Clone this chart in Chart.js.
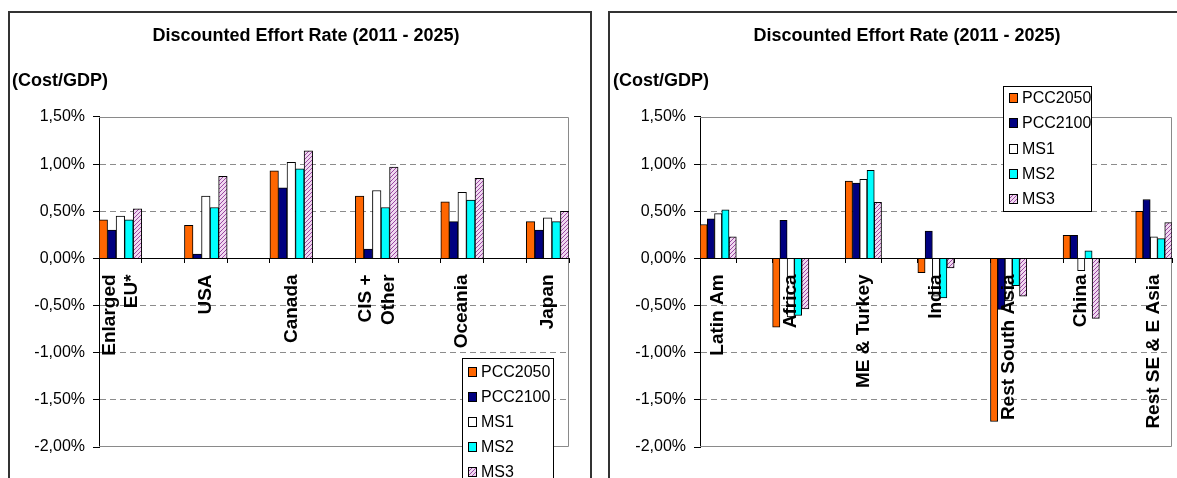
<!DOCTYPE html>
<html>
<head>
<meta charset="utf-8">
<script src="https://cdn.jsdelivr.net/npm/chart.js@4/dist/chart.umd.min.js"></script>
<style>
  html, body { margin: 0; padding: 0; background: #fff; overflow: hidden; width: 1177px; height: 478px; }
  .frame { position: absolute; border: 2px solid #333; box-sizing: border-box; }
  #frameL { left: 8px; top: 11px; width: 584px; height: 600px; }
  #frameR { left: 608px; top: 11px; width: 700px; height: 600px; }
  canvas { position: absolute; top: 0; }
  #chartL { left: 0; }
  #chartR { left: 600px; }
</style>
</head>
<body>
<div class="frame" id="frameL"></div>
<div class="frame" id="frameR"></div>
<canvas id="chartL" width="600" height="478"></canvas>
<canvas id="chartR" width="601" height="478"></canvas>
<script>
// series names (legend)
const seriesNames = ['PCC2050', 'PCC2100', 'MS1', 'MS2', 'MS3'];

// left panel: industrialised regions, values in % of GDP
const regionsA = [['Enlarged', 'EU*'], 'USA', 'Canada', ['CIS +', 'Other'], 'Oceania', 'Japan'];
const pcc2050A = [0.41, 0.35, 0.93, 0.66, 0.60, 0.39];
const pcc2100A = [0.30, 0.045, 0.75, 0.10, 0.39, 0.30];
const ms1A     = [0.45, 0.66, 1.02, 0.72, 0.70, 0.43];
const ms2A     = [0.41, 0.54, 0.95, 0.54, 0.62, 0.39];
const ms3A     = [0.525, 0.87, 1.14, 0.97, 0.85, 0.50];

// right panel: developing regions
const regionsB = ['Latin Am', 'Africa', 'ME & Turkey', 'India', 'Rest South Asia', 'China', 'Rest SE & E Asia'];
const pcc2050B = [0.36, -0.73, 0.82, -0.15, -1.73, 0.245, 0.50];
const pcc2100B = [0.42, 0.405, 0.80, 0.29, -0.54, 0.245, 0.625];
const ms1B     = [0.475, -0.62, 0.84, -0.40, -0.45, -0.13, 0.23];
const ms2B     = [0.515, -0.605, 0.935, -0.42, -0.29, 0.08, 0.21];
const ms3B     = [0.23, -0.535, 0.595, -0.10, -0.40, -0.635, 0.38];

// y axis range (%)
const yMin = -2, yMax = 1.5, yStep = 0.5;

const FONT = '"Liberation Sans", Arial, sans-serif';

// the original sheet leaves an empty category between two regions
function withGaps(arr, blank) {
  const out = [];
  arr.forEach((v, i) => { if (i) out.push(blank); out.push(v); });
  return out;
}

function hatch() {
  const c = document.createElement('canvas');
  c.width = 4; c.height = 4;
  const g = c.getContext('2d');
  g.fillStyle = '#f0d8f0';
  g.fillRect(0, 0, 4, 4);
  g.fillStyle = '#9c4aa4';
  for (let i = 0; i < 4; i++) g.fillRect(3 - i, i, 1, 1);
  return g.createPattern(c, 'repeat');
}

const colors = ['#ff6600', '#000080', '#ffffff', '#00ffff', hatch()];

// grey box around the plot area (top, right, bottom)
const plotFrame = {
  id: 'plotFrame',
  beforeDatasetsDraw(chart) {
    const { left, top, right, bottom } = chart.chartArea;
    const ctx = chart.ctx;
    ctx.save();
    ctx.strokeStyle = '#8a8a8a';
    ctx.lineWidth = 1;
    ctx.beginPath();
    ctx.moveTo(left, Math.round(top) + 0.5);
    ctx.lineTo(Math.round(right) - 0.5, Math.round(top) + 0.5);
    ctx.lineTo(Math.round(right) - 0.5, Math.round(bottom) - 0.5);
    ctx.lineTo(left, Math.round(bottom) - 0.5);
    ctx.stroke();
    ctx.restore();
  }
};

// two-line region names: centre the pair of lines on the group
const centerTwoLine = {
  id: 'centerTwoLine',
  beforeDraw(chart) {
    const items = chart.scales.x.getLabelItems();
    if (items._shifted) return;
    items.forEach(it => {
      if (Array.isArray(it.label)) it.options.translation[0] -= 11;
    });
    items._shifted = true;
  }
};

// boxed legend placed inside the plot like the spreadsheet one
const boxLegend = {
  id: 'boxLegend',
  afterDraw(chart, args, o) {
    const ctx = chart.ctx;
    ctx.save();
    ctx.fillStyle = '#fff';
    ctx.fillRect(o.x, o.y, o.w, o.h);
    ctx.strokeStyle = '#000';
    ctx.lineWidth = 1;
    ctx.strokeRect(o.x + 0.5, o.y + 0.5, o.w, o.h);
    ctx.font = '16px ' + FONT;
    ctx.textBaseline = 'middle';
    chart.data.datasets.forEach((ds, i) => {
      const cy = Math.round(o.y + o.first + i * o.step);
      ctx.fillStyle = ds.backgroundColor;
      ctx.fillRect(o.x + 6, cy - 4, 8, 9);
      ctx.strokeStyle = '#000';
      ctx.strokeRect(o.x + 6.5, cy - 4.5, 8, 9);
      ctx.fillStyle = '#000';
      ctx.fillText(ds.label, o.x + 19, cy + 1);
    });
    ctx.restore();
  }
};

function makeChart(id, regions, series, padLeft, rightGap, legendBox) {
  const labels = withGaps(regions, '');
  return new Chart(document.getElementById(id), {
    type: 'bar',
    data: {
      labels: labels,
      datasets: series.map((vals, i) => ({
        label: seriesNames[i],
        data: withGaps(vals, null),
        backgroundColor: colors[i],
        borderColor: '#000',
        borderWidth: 1,
        categoryPercentage: 1,
        barPercentage: 1
      }))
    },
    options: {
      responsive: false,
      animation: false,
      events: [],
      devicePixelRatio: 1,
      layout: { padding: { left: padLeft, right: 0, top: 0, bottom: 31 } },
      plugins: {
        legend: { display: false },
        tooltip: { enabled: false },
        title: {
          display: true,
          text: 'Discounted Effort Rate (2011 - 2025)',
          color: '#000',
          font: { family: FONT, size: 18, weight: 'bold' },
          padding: { top: 25, bottom: 0 }
        },
        subtitle: {
          display: true,
          text: '(Cost/GDP)',
          align: 'start',
          color: '#000',
          font: { family: FONT, size: 18, weight: 'bold' },
          padding: { top: 23.6, bottom: 25.2 }
        },
        boxLegend: legendBox
      },
      scales: {
        x: {
          position: { y: 0 },
          offset: true,
          grid: { drawOnChartArea: false, color: '#000', tickLength: 4, offset: true },
          border: { color: '#000', z: 1 },
          ticks: {
            autoSkip: false,
            minRotation: 90,
            maxRotation: 90,
            padding: 12,
            color: '#000',
            z: 1,
            font: { family: FONT, size: 19, weight: 'bold' }
          }
        },
        y: {
          min: yMin,
          max: yMax,
          afterFit: s => { s.width = 87; },
          ticks: {
            stepSize: yStep,
            padding: 8,
            color: '#000',
            font: { family: FONT, size: 16 },
            callback: v => v.toFixed(2).replace('.', ',') + '%'
          },
          grid: {
            color: c => {
              const v = c.tick ? c.tick.value : 0;
              return (Math.abs(v) < 1e-9 || v >= yMax || v <= yMin) ? 'rgba(0,0,0,0)' : '#8c8c8c';
            },
            tickColor: '#000',
            tickLength: 6
          },
          border: { color: '#000', dash: [6, 4] }
        },
        yPad: {
          type: 'linear',
          position: 'right',
          grid: { display: false },
          ticks: { display: false },
          border: { display: false },
          afterFit: s => { s.width = rightGap; }
        }
      }
    },
    plugins: [plotFrame, centerTwoLine, boxLegend]
  });
}

makeChart('chartL', regionsA, [pcc2050A, pcc2100A, ms1A, ms2A, ms3A], 12, 31,
  { x: 462, y: 358, w: 91, h: 140, first: 14, step: 25 });
makeChart('chartR', regionsB, [pcc2050B, pcc2100B, ms1B, ms2B, ms3B], 13, 29,
  { x: 403, y: 86, w: 88, h: 125, first: 12, step: 25.3 });
</script>
</body>
</html>
